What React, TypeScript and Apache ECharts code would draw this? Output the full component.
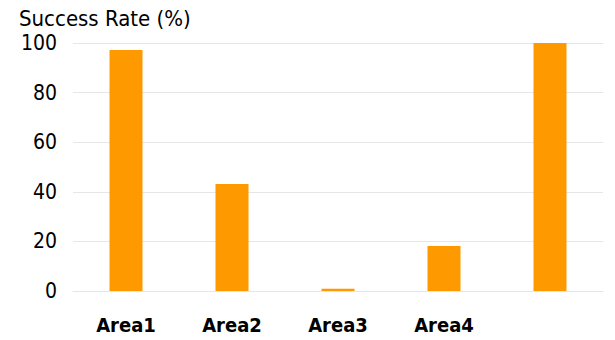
import React, { useEffect, useRef } from "react";
import * as echarts from "echarts";

const categories = ["Area1", "Area2", "Area3", "Area4", ""];
const successRates = [97.2, 43.1, 0.9, 18.1, 100];
const yTicks = { min: 0, max: 100, interval: 20 };

export default function App() {
  const ref = useRef<HTMLDivElement>(null);
  useEffect(() => {
    if (!ref.current) return;
    const chart = echarts.init(ref.current, null, { renderer: "svg" });
    chart.setOption({
      animation: false,
      title: {
        text: "Success Rate (%)",
        left: 14,
        top: 0,
        padding: [5, 5, 5, 5],
        textStyle: {
          fontFamily: "DejaVu Sans Condensed",
          fontSize: 22,
          lineHeight: 26,
          fontWeight: "normal",
          color: "#000",
        },
      },
      grid: { left: 73, right: 12, top: 43, bottom: 49, containLabel: false },
      xAxis: {
        type: "category",
        data: categories,
        axisLine: { show: true, lineStyle: { color: "#e6e6e6" } },
        axisTick: { show: false },
        axisLabel: {
          margin: 24,
          fontFamily: "DejaVu Sans Condensed",
          fontWeight: "bold",
          fontSize: 20,
          color: "#000",
        },
      },
      yAxis: {
        type: "value",
        min: yTicks.min,
        max: yTicks.max,
        interval: yTicks.interval,
        axisLine: { show: false },
        axisTick: { show: false },
        splitLine: { lineStyle: { color: "#e6e6e6" } },
        axisLabel: {
          margin: 16,
          fontFamily: "DejaVu Sans Condensed",
          fontSize: 21,
          color: "#000",
        },
      },
      series: [
        {
          type: "bar",
          data: successRates,
          barWidth: 33,
          itemStyle: { color: "#FF9900" },
        },
      ],
    });
    return () => chart.dispose();
  }, []);
  return <div ref={ref} style={{ width: 615, height: 340, margin: "-8px 0 0 -8px" }} />;
}
